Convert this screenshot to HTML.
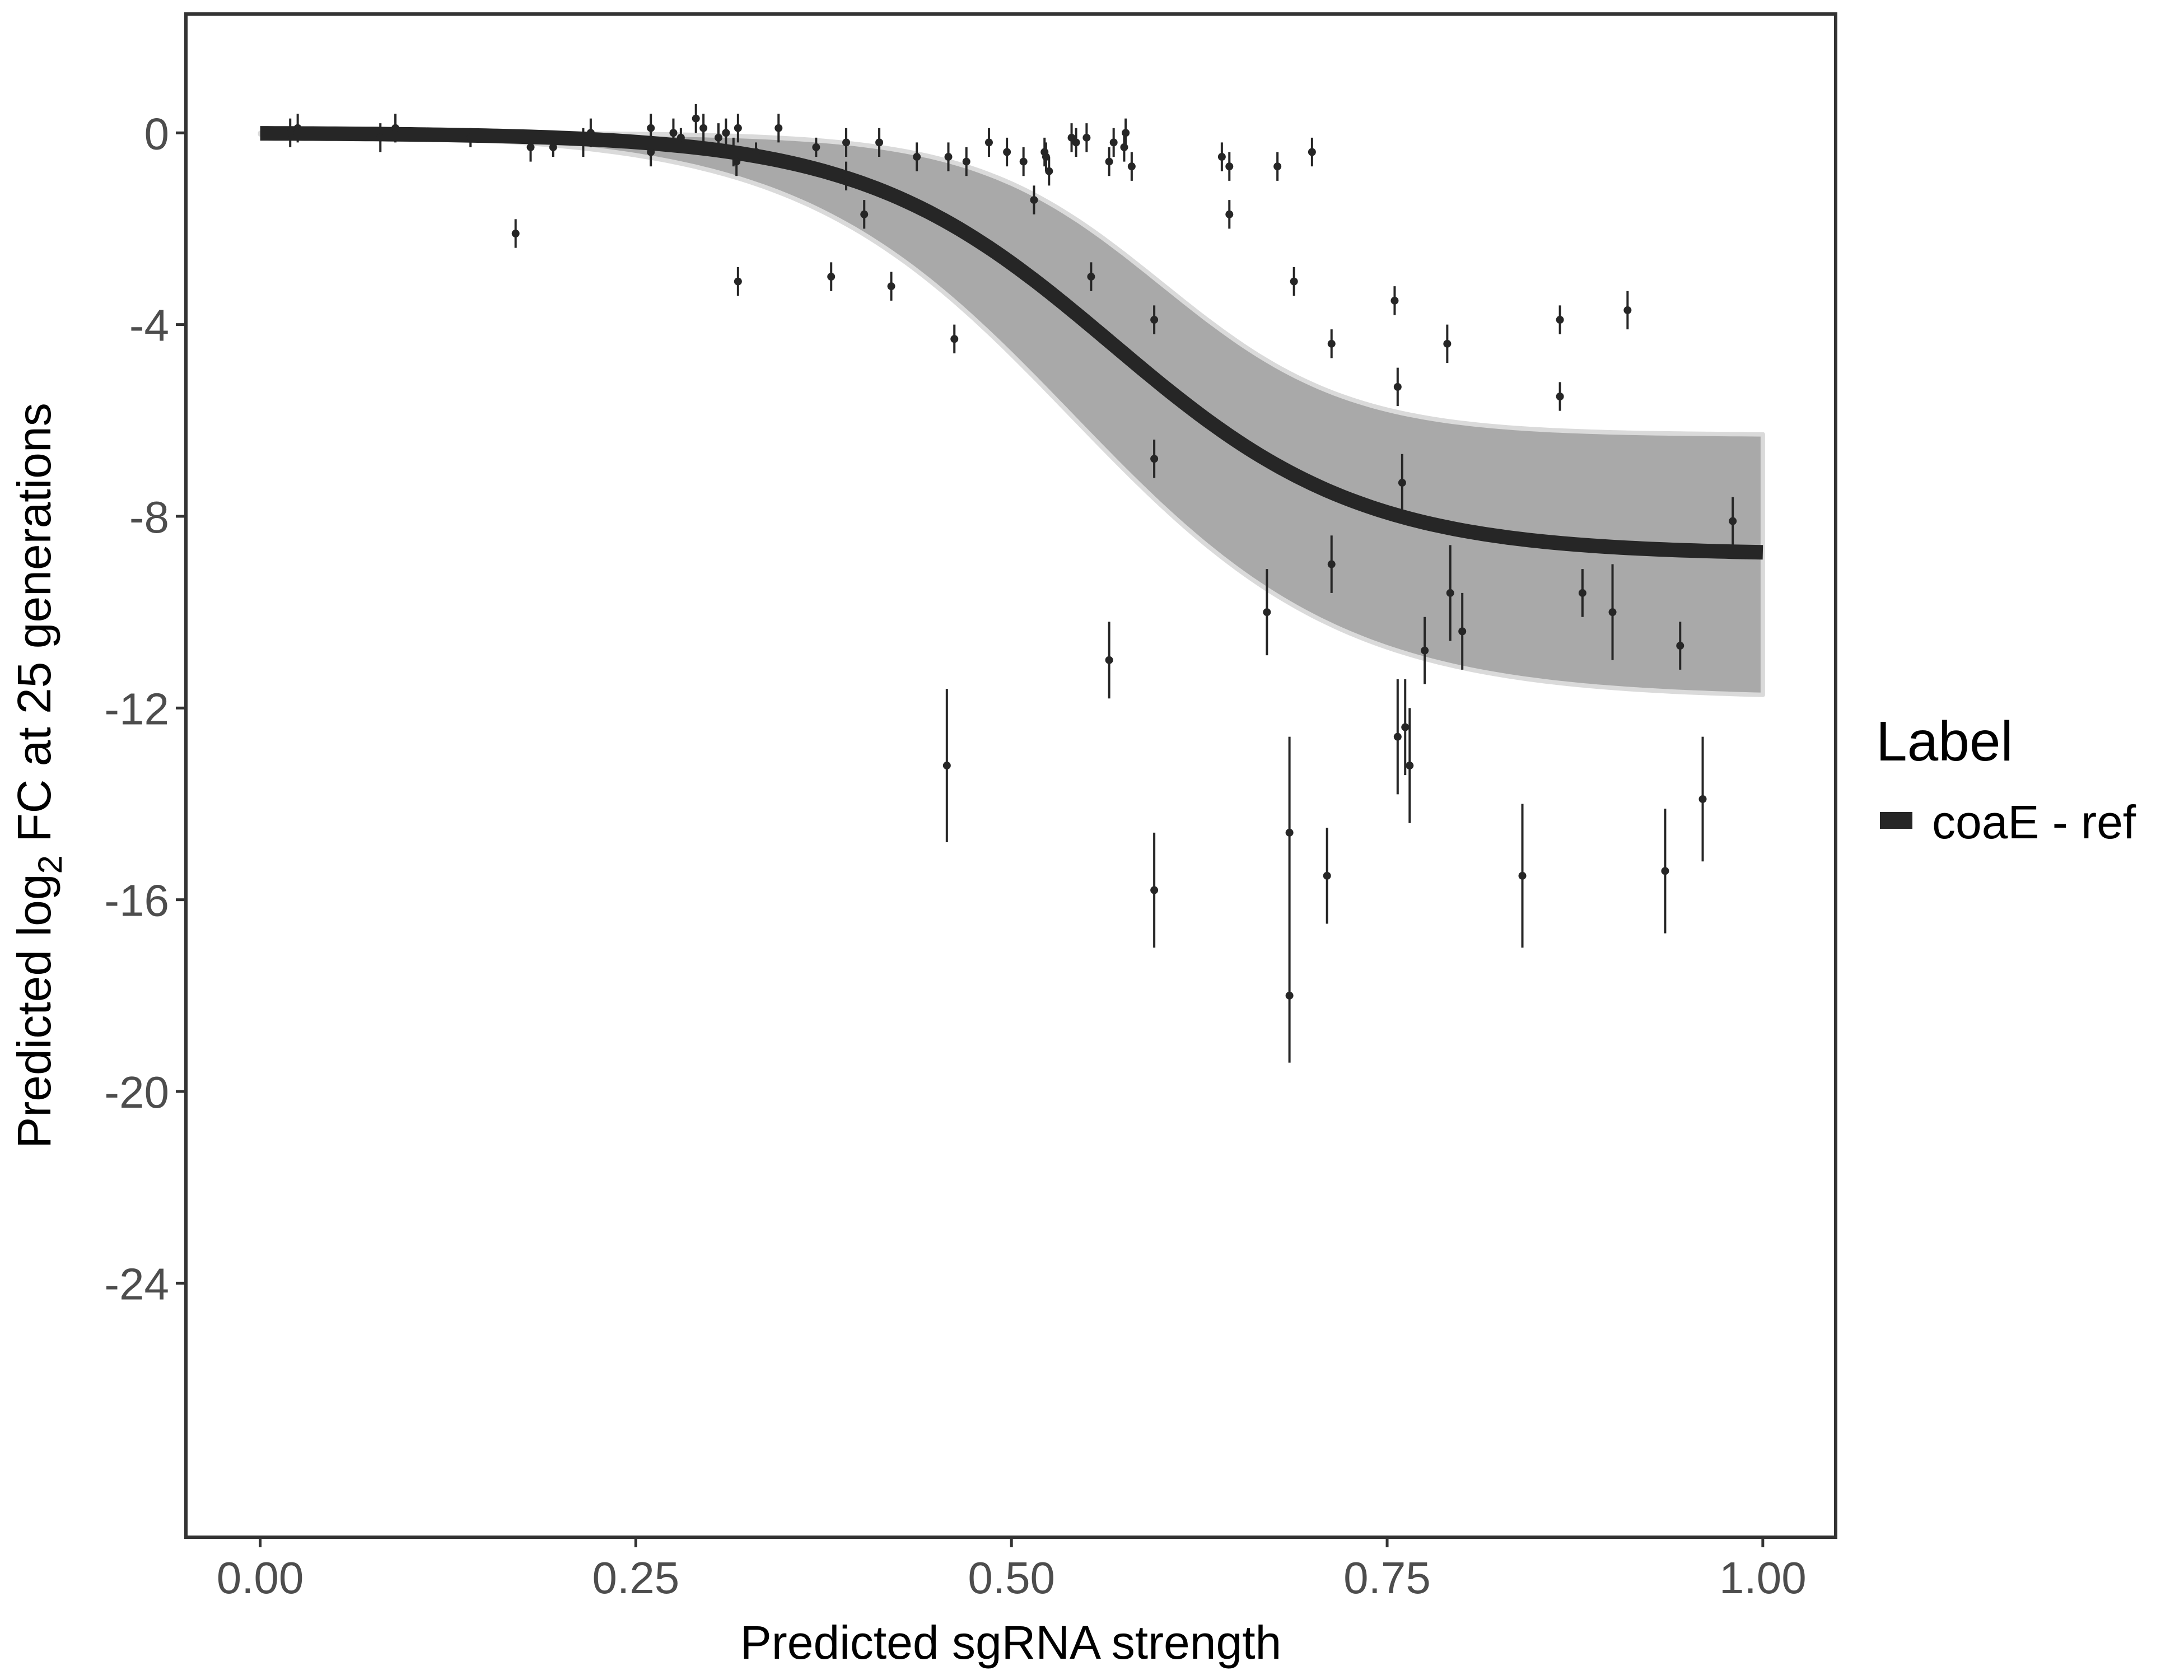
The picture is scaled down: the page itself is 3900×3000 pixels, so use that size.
<!DOCTYPE html>
<html><head><meta charset="utf-8">
<style>
html,body{margin:0;padding:0;background:#fff;}
svg{display:block;font-family:"Liberation Sans",sans-serif;}
</style></head>
<body>
<svg id="chart" width="3900" height="3000" viewBox="0 0 3900 3000" xmlns="http://www.w3.org/2000/svg">
<rect x="0" y="0" width="3900" height="3000" fill="#fff"/>
<g id="band"></g>
<g id="curve"></g>
<g id="points"></g>
<rect x="332" y="25" width="2946" height="2720" fill="none" stroke="#333" stroke-width="6"/>
<g id="axes"></g>
<text x="1805" y="2962" font-size="84" text-anchor="middle" fill="#000">Predicted sgRNA strength</text>
<text transform="translate(90,1385) rotate(-90)" font-size="84" text-anchor="middle" fill="#000">Predicted  log<tspan font-size="60" dy="20">2</tspan><tspan dy="-20"> FC at 25 generations</tspan></text>
<g>
<text x="3350" y="1358" font-size="100" fill="#000">Label</text>
<rect x="3357" y="1450" width="58" height="30" fill="#262626"/>
<text x="3450" y="1497" font-size="84" fill="#000">coaE - ref</text>
</g>
</svg>
<script>
const xTicks=[0,0.25,0.5,0.75,1];
const xTickLabels=["0.00","0.25","0.50","0.75","1.00"];
const yTicks=[0,-4,-8,-12,-16,-20,-24];
const yTickLabels=["0","-4","-8","-12","-16","-20","-24"];
const fitParams=[-8.8,0.567,12];
const bandUpper=[-6.3,0.6,16];
const bandLower=[-11.8,0.54,11];
const ptX=[0.02,0.025,0.08,0.09,0.14,0.17,0.18,0.195,0.215,0.22,0.26,0.26,0.275,0.28,0.29,0.295,0.305,0.31,0.315,0.317,0.318,0.318,0.33,0.345,0.37,0.38,0.39,0.39,0.402,0.412,0.42,0.437,0.457,0.458,0.462,0.47,0.485,0.497,0.508,0.515,0.522,0.523,0.525,0.54,0.543,0.55,0.553,0.565,0.565,0.568,0.575,0.576,0.58,0.595,0.595,0.595,0.64,0.645,0.645,0.67,0.677,0.685,0.685,0.688,0.7,0.71,0.713,0.713,0.755,0.757,0.757,0.76,0.762,0.765,0.775,0.79,0.792,0.8,0.84,0.88,0.865,0.865,0.9,0.91,0.935,0.945,0.96,0.98];
const ptY=[0,0.1,-0.1,0.1,-0.1,-2.1,-0.3,-0.3,-0.2,0,-0.4,0.1,0,-0.1,0.3,0.1,-0.1,0,-0.4,-0.6,0.1,-3.1,-0.4,0.1,-0.3,-3.0,-0.2,-0.9,-1.7,-0.2,-3.2,-0.5,-13.2,-0.5,-4.3,-0.6,-0.2,-0.4,-0.6,-1.4,-0.4,-0.5,-0.8,-0.1,-0.2,-0.1,-3.0,-11.0,-0.6,-0.2,-0.3,0,-0.7,-3.9,-6.8,-15.8,-0.5,-0.7,-1.7,-10.0,-0.7,-14.6,-18.0,-3.1,-0.4,-15.5,-4.4,-9.0,-3.5,-5.3,-12.6,-7.3,-12.4,-13.2,-10.8,-4.4,-9.6,-10.4,-15.5,-9.6,-3.9,-5.5,-10.0,-3.7,-15.4,-10.7,-13.9,-8.1];
const ptErr=[0.3,0.3,0.3,0.3,0.2,0.3,0.3,0.2,0.3,0.3,0.3,0.3,0.3,0.2,0.3,0.3,0.3,0.3,0.3,0.3,0.3,0.3,0.2,0.3,0.2,0.3,0.3,0.3,0.3,0.3,0.3,0.3,1.6,0.3,0.3,0.3,0.3,0.3,0.3,0.3,0.3,0.3,0.3,0.3,0.3,0.3,0.3,0.8,0.3,0.3,0.3,0.3,0.3,0.3,0.4,1.2,0.3,0.3,0.3,0.9,0.3,2.0,1.4,0.3,0.3,1.0,0.3,0.6,0.3,0.4,1.2,0.6,1.0,1.2,0.7,0.4,1.0,0.8,1.5,0.5,0.3,0.3,1.0,0.4,1.3,0.5,1.3,0.5];

const NS="http://www.w3.org/2000/svg";
const X0=332,X1=3278,Y0=25,Y1=2745;
const xMin=-0.0494,xMax=1.0485,yMin=-29.3,yMax=2.48;
function sx(v){return X0+(v-xMin)/(xMax-xMin)*(X1-X0);}
function sy(v){return Y1-(v-yMin)/(yMax-yMin)*(Y1-Y0);}
function logi(p,x){return p[0]/(1+Math.exp(-p[2]*(x-p[1])));}
function mk(tag,attrs,parent){const e=document.createElementNS(NS,tag);for(const k in attrs)e.setAttribute(k,attrs[k]);parent.appendChild(e);return e;}

const band=document.getElementById('band');
let up=[],lo=[];
for(let i=0;i<=200;i++){const x=i/200;up.push(sx(x).toFixed(1)+','+sy(Math.max(logi(bandUpper,x),logi(bandLower,x))).toFixed(1));lo.push(sx(x).toFixed(1)+','+sy(Math.min(logi(bandUpper,x),logi(bandLower,x))).toFixed(1));}
const bp=mk('polygon',{points:up.concat(lo.reverse()).join(' '),fill:'#a9a9a9',stroke:'#dadada','stroke-width':8,'stroke-linejoin':'round'},band);



const cg=document.getElementById('curve');
let cp=[];
for(let i=0;i<=200;i++){const x=i/200;cp.push(sx(x).toFixed(1)+','+sy(logi(fitParams,x)).toFixed(1));}
const cl=mk('polyline',{points:cp.join(' '),fill:'none',stroke:'#262626','stroke-width':26},cg);



const pg=document.getElementById('points');
for(let i=0;i<ptX.length;i++){
  const g=mk('g',{},pg);
  
  
  const x=sx(ptX[i]);
  mk('line',{x1:x,x2:x,y1:sy(ptY[i]+ptErr[i]),y2:sy(ptY[i]-ptErr[i]),stroke:'#262626','stroke-width':4},g);
  mk('circle',{cx:x,cy:sy(ptY[i]),r:7,fill:'#262626'},g);
}

const ax=document.getElementById('axes');
xTicks.forEach((v,i)=>{
  const x=sx(v);
  const t=mk('line',{x1:x,x2:x,y1:Y1+3,y2:Y1+18,stroke:'#333','stroke-width':5},ax);
  
  
  const l=mk('text',{x:x,y:Y1+100,'font-size':80,'text-anchor':'middle',fill:'#4d4d4d'},ax);
  
  
  l.textContent=xTickLabels[i];
});
yTicks.forEach((v,i)=>{
  const y=sy(v);
  const t=mk('line',{x1:X0-18,x2:X0-3,y1:y,y2:y,stroke:'#333','stroke-width':5},ax);
  
  
  const l=mk('text',{x:X0-30,y:y+29,'font-size':80,'text-anchor':'end',fill:'#4d4d4d'},ax);
  
  
  l.textContent=yTickLabels[i];
});
</script>
</body></html>
